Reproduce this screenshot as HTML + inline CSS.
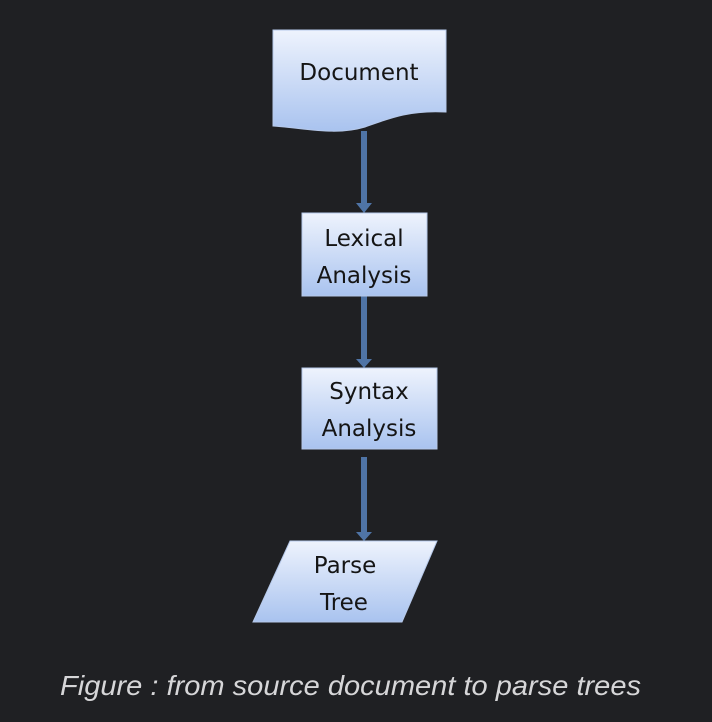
<!DOCTYPE html>
<html><head><meta charset="utf-8"><style>
html,body{margin:0;padding:0;background:#1f2023;}
svg{display:block}
</style></head><body>
<svg width="712" height="722" viewBox="0 0 712 722" xmlns="http://www.w3.org/2000/svg">
<defs>
<linearGradient id="g" x1="0" y1="0" x2="0" y2="1">
<stop offset="0" stop-color="#eef3fd"/><stop offset="1" stop-color="#a9c3ef"/>
</linearGradient>
</defs>
<rect width="712" height="722" fill="#1f2023"/>
<g fill="#4f74a6">
<rect x="361" y="131" width="6" height="74"/><polygon points="356,203 372,203 364,213"/>
<rect x="361" y="296" width="6" height="64"/><polygon points="356,359 372,359 364,368"/>
<rect x="361" y="457" width="6" height="77"/><polygon points="356,532 372,532 364,541"/>
</g>
<g stroke="#b6c9ea" stroke-width="1">
<path d="M273,30 H446 V112 C410,110 390,118 365,127 C335,136 305,128 273,126 Z" fill="url(#g)"/>
<rect x="302" y="213" width="125" height="83" fill="url(#g)"/>
<rect x="302" y="368" width="135" height="81" fill="url(#g)"/>
<polygon points="290,541 437,541 402,622 253,622" fill="url(#g)"/>
</g>
<g font-family="'DejaVu Sans', 'Liberation Sans', sans-serif" font-size="23" fill="#151515" text-anchor="middle">
<text x="359" y="80">Document</text>
<text x="364" y="246">Lexical</text>
<text x="364" y="283">Analysis</text>
<text x="369" y="399">Syntax</text>
<text x="369" y="436">Analysis</text>
<text x="345" y="573">Parse</text>
<text x="344" y="610">Tree</text>
</g>
<text x="60" y="695" textLength="581" lengthAdjust="spacingAndGlyphs" font-family="'Liberation Sans', sans-serif" font-style="italic" font-size="28" fill="#d6d6d8">Figure : from source document to parse trees</text>
</svg>
</body></html>
